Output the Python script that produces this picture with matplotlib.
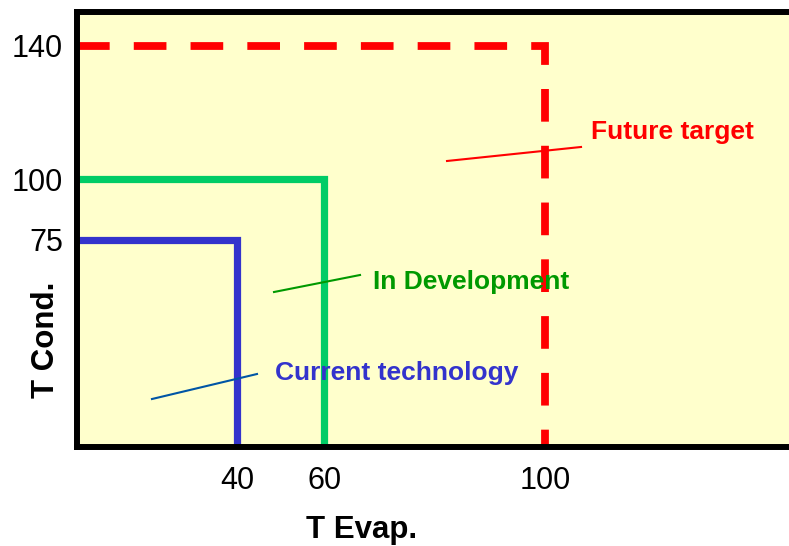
import matplotlib as mpl
import matplotlib.pyplot as plt
import numpy as np

mpl.rcParams.update({
    "font.family": ["Liberation Sans", "DejaVu Sans"],
    "axes.linewidth": 4.3,
})

# Operating envelopes: evaporator / condenser temperature limits
tech_names = ["Current technology", "In Development", "Future target"]
t_evap = [40, 60, 100]
t_cond = [75, 100, 140]

line_colors = ["#3333CC", "#00CC66", "#FF0000"]
text_colors = ["#3333CC", "#009900", "#FF0000"]
leader_colors = ["#0055A5", "#009900", "#FF0000"]

x_ticks = [40, 60, 100]
y_ticks = [75, 100, 140]

# Schematic (non-linear) axis spacing, piecewise linear
x_knots = [0, 40, 60, 100, 145]
x_pos = [0.0, 0.2247, 0.347, 0.657, 1.0]
y_knots = [0, 75, 100, 140, 150]
y_pos = [0.0, 0.476, 0.616, 0.922, 1.0]


def piecewise(knots, pos):
    fwd = lambda v: np.interp(v, knots, pos)
    inv = lambda p: np.interp(p, pos, knots)
    return fwd, inv


fig = plt.figure(figsize=(7.89, 5.46), dpi=100)
ax = fig.add_axes([77 / 789, 1 - 447 / 546, 712 / 789, 435 / 546])
ax.set_facecolor("#FFFFCC")

ax.set_xscale("function", functions=piecewise(x_knots, x_pos))
ax.set_yscale("function", functions=piecewise(y_knots, y_pos))
ax.set_xlim(x_knots[0], x_knots[-1])
ax.set_ylim(y_knots[0], y_knots[-1])

x0, y0 = x_knots[0], y_knots[0]
for i, (te, tc) in enumerate(zip(t_evap, t_cond)):
    style = dict(color=line_colors[i], lw=5.2, solid_joinstyle="miter",
                 solid_capstyle="butt", dash_capstyle="butt",
                 dash_joinstyle="miter")
    if i == 2:
        style.update(lw=5.6, linestyle=(0, (4.2, 3.1)))
    ax.plot([x0, te, te], [tc, tc, y0], **style)

# Callout labels with thin leader lines (axes fraction coordinates)
leaders = [
    ((0.1053, 0.1103), (0.2528, 0.1678)),
    ((0.2767, 0.3563), (0.3975, 0.3954)),
    ((0.5197, 0.6575), (0.7079, 0.6897)),
]
label_xy = [(0.2781, 0.154), (0.4157, 0.3632), (0.722, 0.708)]
for i, name in enumerate(tech_names):
    (xa, ya), (xb, yb) = leaders[i]
    ax.plot([xa, xb], [ya, yb], transform=ax.transAxes,
            color=leader_colors[i], lw=1.5)
    ax.text(label_xy[i][0], label_xy[i][1], name, transform=ax.transAxes,
            color=text_colors[i], fontsize=19, fontweight="bold",
            ha="left", va="baseline")

ax.set_xticks(x_ticks)
ax.set_xticklabels([str(v) for v in x_ticks])
ax.set_yticks(y_ticks)
ax.set_yticklabels([str(v) for v in y_ticks])
ax.minorticks_off()
ax.tick_params(axis="both", length=0, labelsize=22)
ax.tick_params(axis="x", pad=14)
ax.tick_params(axis="y", pad=10)

ax.spines["right"].set_visible(False)

ax.set_xlabel("T Evap.", fontsize=22.5, fontweight="bold", va="center")
ax.xaxis.set_label_coords(0.40, -0.19)
ax.set_ylabel("T Cond.", fontsize=22.5, fontweight="bold", va="center")
ax.yaxis.set_label_coords(-0.043, 0.246)

fig.savefig("out.png", dpi=100)
